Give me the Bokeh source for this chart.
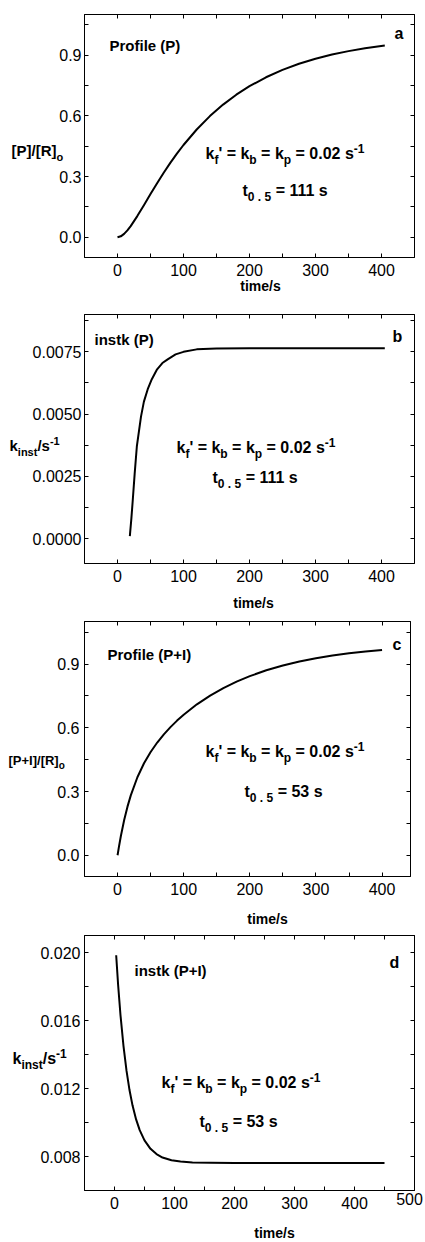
from bokeh.plotting import figure
from bokeh.models import Label, LinearAxis, FixedTicker, NumeralTickFormatter, CustomJSTickFormatter, Range1d
from bokeh.layouts import column
from bokeh.embed import file_html
from bokeh.resources import INLINE

# ---------------- data ----------------
# (a) Profile (P)
a_t = [0, 5, 10, 15, 20, 30, 40, 50, 60, 70, 80, 90, 100, 120, 140, 160, 180,
       200, 225, 250, 275, 300, 325, 350, 375, 405]
a_p = [0.0, 0.0045, 0.0165, 0.0338, 0.0550, 0.1045, 0.1585, 0.2133, 0.2670, 0.3185,
       0.3671, 0.4128, 0.4555, 0.5322, 0.5983, 0.6551, 0.7040, 0.7459, 0.7901, 0.8266,
       0.8567, 0.8817, 0.9022, 0.9192, 0.9333, 0.9469]
# (b) instk (P)
b_t = [18.7, 21, 23, 26, 29.3, 35.6, 40, 45.8, 52, 60, 68, 76, 88, 100, 120, 150,
       200, 300, 405]
b_k = [0.0001, 0.0008, 0.0015, 0.0026, 0.0037, 0.0049, 0.0055, 0.0060, 0.0064, 0.0068,
       0.00705, 0.0072, 0.0074, 0.0075, 0.0076, 0.00763, 0.00764, 0.00764, 0.00764]
# (c) Profile (P+I)
c_t = [0, 2, 5, 10, 15, 20, 30, 40, 50, 60, 70, 80, 90, 100, 120, 140, 160, 180, 200,
       225, 250, 275, 300, 325, 350, 375, 400]
c_v = [0.0, 0.0385, 0.0908, 0.1659, 0.2287, 0.2819, 0.3671, 0.4329, 0.4859, 0.5305,
       0.5690, 0.6031, 0.6337, 0.6614, 0.7102, 0.7515, 0.7868, 0.8170, 0.8430, 0.8703,
       0.8928, 0.9115, 0.9269, 0.9396, 0.9501, 0.9588, 0.9659]
# (d) instk (P+I)
d_t = [2.8, 6, 10, 15, 20, 25, 30, 36, 42, 50, 60, 70, 80, 95, 110, 130, 160, 200, 300, 450]
d_k = [0.01984, 0.0181, 0.01631, 0.01449, 0.01305, 0.01191, 0.01101, 0.01018, 0.00955,
       0.00895, 0.00845, 0.00814, 0.00794, 0.00778, 0.0077, 0.00765, 0.00763, 0.00762,
       0.00762, 0.00762]

x_ticks_400 = [0, 100, 200, 300, 400]
x_ticks_500 = [0, 100, 200, 300, 400, 500]
y_ticks_frac = [0.0, 0.3, 0.6, 0.9]
y_ticks_b = [0.0, 0.0025, 0.0050, 0.0075]
y_ticks_d = [0.008, 0.012, 0.016, 0.020]

FONT = "Liberation Sans"
TICK_SIZE = "16px"
OY = -8   # vertical offset between reference page coordinates and layout coordinates

# Arial/Liberation Sans Bold advance widths (per 1000 em)
WB = {' ': 278, "'": 238, '+': 584, '-': 333, '.': 278, '/': 278, '=': 584,
      'I': 278, 'P': 667, 'R': 722, '[': 333, ']': 333, '(': 333, ')': 333,
      'b': 611, 'f': 333, 'i': 278, 'k': 556, 'n': 611, 'o': 611, 'p': 611,
      's': 556, 't': 333}


def tw(s, size):
    return sum(WB.get(c, 556) for c in s) / 1000.0 * size


class Spec:
    def __init__(self, fl, ft, fw, fh, bl, bt, br, bb, xr, yr):
        self.fl, self.ft, self.fw, self.fh = fl, ft, fw, fh
        self.bl, self.bt, self.br, self.bb = bl, bt, br, bb
        self.xr, self.yr = xr, yr

    def data(self, px, py):
        x0, x1 = self.xr
        y0, y1 = self.yr
        return (x0 + (px - self.fl) / self.fw * (x1 - x0),
                y1 - (py - self.ft) / self.fh * (y1 - y0))


def lab(p, s, px, py, text, size, align="left", place="center", bold=True):
    x, y = s.data(px, py)
    l = Label(x=x, y=y, text=text, text_font=FONT, text_font_size=f"{size}px",
              text_font_style="bold" if bold else "normal",
              text_align=align, text_baseline="middle", text_color="black")
    if place == "center":
        p.add_layout(l)
    else:
        p.add_layout(l, place)


def rich(p, s, px, py, parts, size, sub, place="center"):
    cx = px
    for text, kind in parts:
        fs = size if kind == "n" else sub
        dy = 0 if kind == "n" else (0.40 * size if kind == "sub" else -0.32 * size)
        lead = len(text) - len(text.lstrip(" "))
        body = text.strip(" ")
        if body:
            lab(p, s, cx + tw(" " * lead, fs), py + dy, body, fs, place=place)
        cx += tw(text, fs)


def make(s, xt, xminor, yt, yminor, yfmt, ystand, xfmt=None):
    p = figure(frame_width=s.fw, frame_height=s.fh,
               min_border_left=s.bl, min_border_top=s.bt,
               min_border_right=s.br, min_border_bottom=s.bb,
               x_range=Range1d(*s.xr), y_range=Range1d(*s.yr),
               output_backend="svg", toolbar_location=None)
    p.grid.visible = False
    p.outline_line_color = "black"
    p.outline_line_width = 1
    p.background_fill_color = "white"
    p.border_fill_color = "white"
    for ax, tk, mn, fmt, st in ((p.xaxis[0], xt, xminor, xfmt or NumeralTickFormatter(format="0"), 6),
                                (p.yaxis[0], yt, yminor, NumeralTickFormatter(format=yfmt), ystand)):
        ax.ticker = FixedTicker(ticks=tk, minor_ticks=mn)
        ax.formatter = fmt
        ax.major_tick_in = 4
        ax.major_tick_out = 0
        ax.minor_tick_in = 4
        ax.minor_tick_out = 0
        ax.major_label_standoff = st
        ax.major_label_text_font = FONT
        ax.major_label_text_font_size = TICK_SIZE
        ax.major_label_text_color = "black"
        ax.axis_line_color = "black"
        ax.major_tick_line_color = "black"
        ax.minor_tick_line_color = "black"
    for loc, tk, mn in (("right", yt, yminor), ("above", xt, xminor)):
        ax = LinearAxis(ticker=FixedTicker(ticks=tk, minor_ticks=mn),
                        formatter=CustomJSTickFormatter(code="return ''"),
                        major_tick_in=4, major_tick_out=0,
                        minor_tick_in=4, minor_tick_out=0,
                        major_label_standoff=0, major_label_text_font_size="1px",
                        axis_line_color="black", major_tick_line_color="black",
                        minor_tick_line_color="black")
        p.add_layout(ax, loc)
    return p


KLINE = [("k", "n"), ("f", "sub"), ("' = k", "n"), ("b", "sub"), (" = k", "n"),
         ("p", "sub"), (" = 0.02 s", "n"), ("-1", "sup")]
KINST = [("k", "n"), ("inst", "sub"), ("/s", "n"), ("-1", "sup")]

xminor_a = [50, 150, 250, 350]
xminor_d = [50, 150, 250, 350, 450]

# ---------------- panel a ----------------
sa = Spec(85, 14 + OY, 330, 243, 77, 14, 8, 43, (-50, 450), (-0.1, 1.1))
pa = make(sa, x_ticks_400, xminor_a, y_ticks_frac, [0.15, 0.45, 0.75, 1.05], "0.0", 3)
pa.line(a_t, a_p, line_color="black", line_width=2, line_join="round")
lab(pa, sa, 110, 45 + OY, "Profile (P)", 15)
lab(pa, sa, 395, 33 + OY, "a", 16)
rich(pa, sa, 206, 153 + OY, KLINE, 16, 12)
rich(pa, sa, 243, 190 + OY, [("t", "n"), ("0 . 5", "sub"), (" = 111 s", "n")], 16, 12)
rich(pa, sa, 12, 150 + OY, [("[P]/[R]", "n"), ("o", "sub")], 15, 11, place="right")
lab(pa, sa, 261, 285.5 + OY, "time/s", 14, align="center", place="right")

# ---------------- panel b ----------------
sb = Spec(85, 314 + OY, 330, 249, 77, 14, 8, 47, (-50, 450), (-0.001, 0.009))
pb = make(sb, x_ticks_400, xminor_a, y_ticks_b, [0.00125, 0.00375, 0.00625, 0.00875], "0.0000", 3)
pb.line(b_t, b_k, line_color="black", line_width=2, line_join="round")
lab(pb, sb, 95, 339 + OY, "instk (P)", 15)
lab(pb, sb, 393, 336 + OY, "b", 16)
rich(pb, sb, 177, 446.7 + OY, KLINE, 16, 12)
rich(pb, sb, 213, 477 + OY, [("t", "n"), ("0 . 5", "sub"), (" = 111 s", "n")], 16, 12)
rich(pb, sb, 10, 445 + OY, KINST, 15, 11, place="right")
lab(pb, sb, 254, 602 + OY, "time/s", 14, align="center", place="right")

# ---------------- panel c ----------------
sc = Spec(92, 621 + OY, 326, 255, 84, 11, 5, 50, (-50, 443), (-0.1, 1.1))
pc = make(sc, x_ticks_400, xminor_a, y_ticks_frac, [0.15, 0.45, 0.75, 1.05], "0.0", 5)
pc.line(c_t, c_v, line_color="black", line_width=2, line_join="round")
lab(pc, sc, 115, 654 + OY, "Profile (P+I)", 15)
lab(pc, sc, 400, 644 + OY, "c", 16)
rich(pc, sc, 213, 751 + OY, KLINE, 16, 12)
rich(pc, sc, 252, 791 + OY, [("t", "n"), ("0 . 5", "sub"), (" = 53 s", "n")], 16, 12)
rich(pc, sc, 16, 760 + OY, [("[P+I]/[R]", "n"), ("o", "sub")], 13, 10, place="right")
lab(pc, sc, 275, 918 + OY, "time/s", 14, align="center", place="right")

# ---------------- panel d ----------------
sd = Spec(80, 935 + OY, 330, 255, 72, 9, 13, 52, (-50, 500), (0.006, 0.021))
xfmt_d = CustomJSTickFormatter(code="return tick >= 500 ? '' : tick.toFixed(0)")
pd_ = make(sd, x_ticks_500, xminor_d, y_ticks_d, [0.010, 0.014, 0.018], "0.000", 4, xfmt=xfmt_d)
pd_.line(d_t, d_k, line_color="black", line_width=2, line_join="round")
lab(pd_, sd, 130, 970 + OY, "instk (P+I)", 15)
lab(pd_, sd, 385, 962 + OY, "d", 16)
rich(pd_, sd, 157, 1081.7 + OY, KLINE, 16, 12)
rich(pd_, sd, 195, 1121 + OY, [("t", "n"), ("0 . 5", "sub"), (" = 53 s", "n")], 16, 12)
rich(pd_, sd, 8, 1058 + OY, KINST, 16, 12, place="right")
lab(pd_, sd, 270, 1232 + OY, "time/s", 14, align="center", place="right")
lab(pd_, sd, 405, 1198 + OY, str(x_ticks_500[-1]), 16, align="center", place="right", bold=False)

layout = column(pa, pb, pc, pd_, spacing=0)
open("out.html", "w").write(file_html(layout, INLINE))
